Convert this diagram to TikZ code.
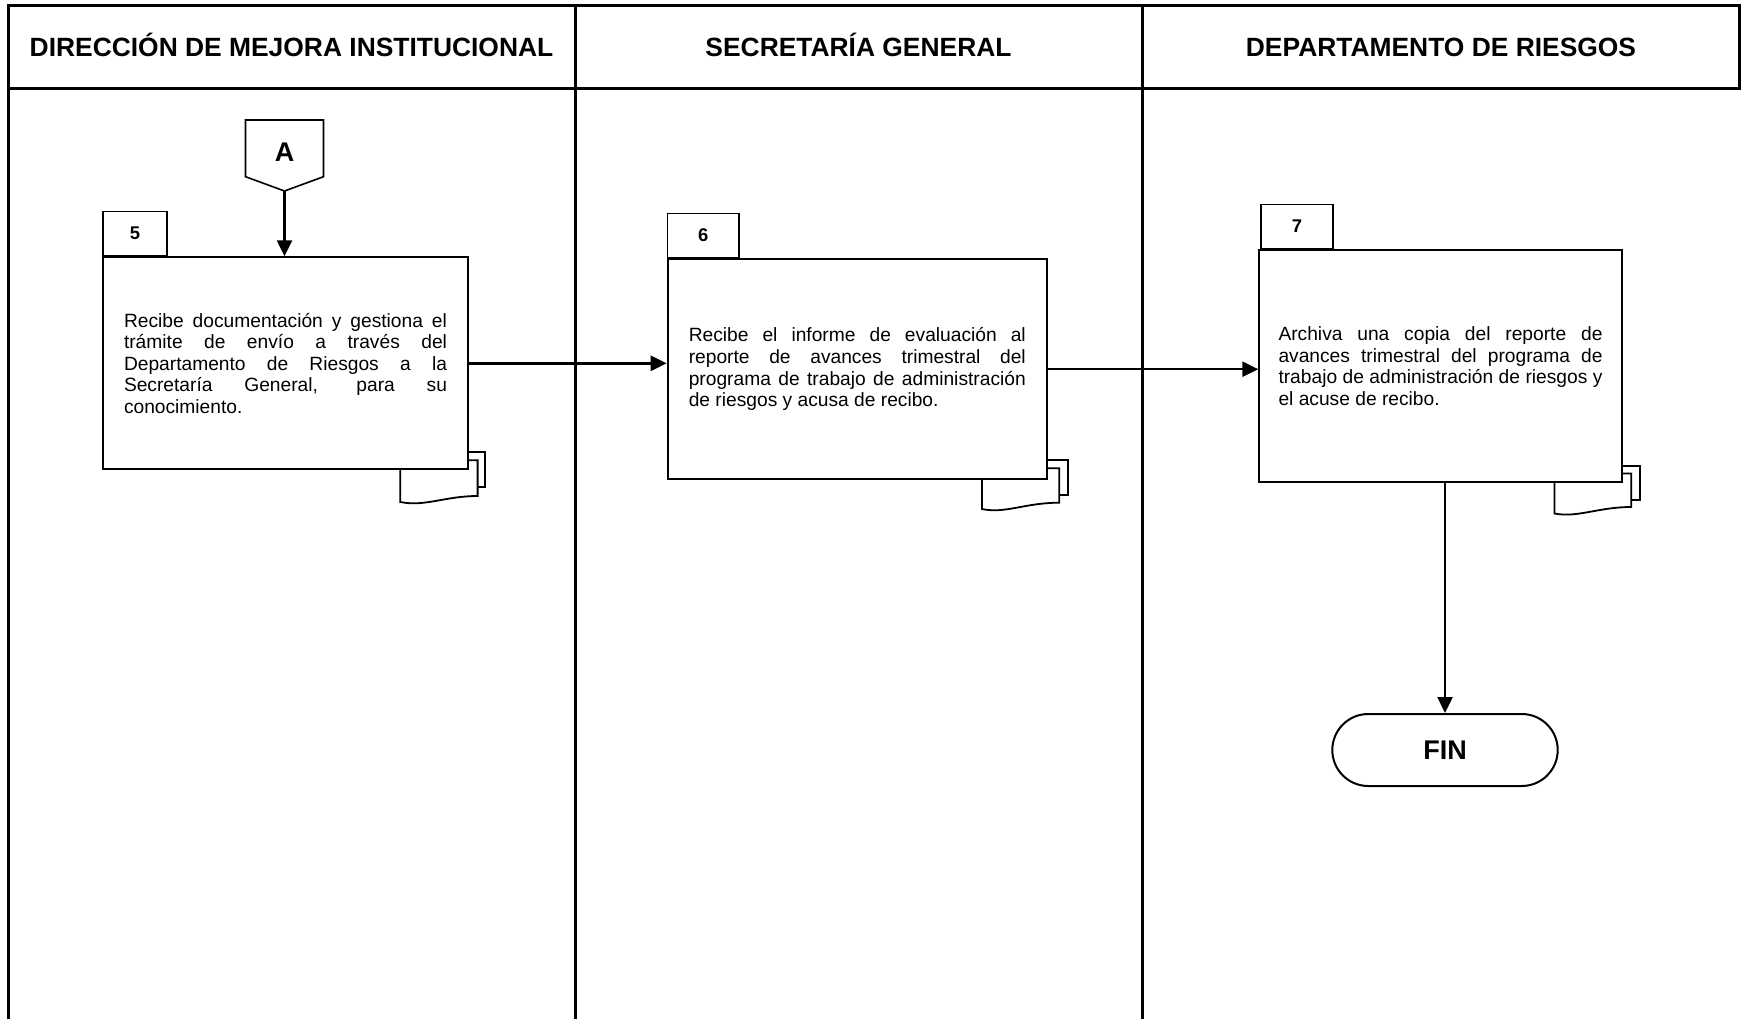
\documentclass[tikz,border=0pt]{standalone}
\usepackage{fontspec}
\setmainfont{Liberation Sans}
\usetikzlibrary{positioning,arrows.meta}
\hyphenpenalty=10000
\hbadness=10000

\tikzset{
  lane/.style={line width=1.5pt},
  head/.style={anchor=base,font=\bfseries\fontsize{13.2}{16}\selectfont},
  task/.style={draw,line width=1pt,fill=white,align=justify,inner sep=0pt,font=\fontsize{9.6}{10.8}\selectfont},
  tab/.style={draw,line width=0.7pt,minimum height=22pt,inner sep=0pt,font=\bfseries\fontsize{9.2}{11}\selectfont},
  page/.style={draw,line width=0.9pt,fill=white},
  flow/.style={line width=1.2pt,-{Triangle[length=8pt,width=7.5pt]}},
  term/.style={draw,line width=1pt,rounded corners=18pt,minimum width=112.7pt,minimum height=36pt,font=\bfseries\fontsize{13.5}{16}\selectfont}
}

\begin{document}
\begin{tikzpicture}[x=0.5pt,y=-0.5pt]
\useasboundingbox (0,0) rectangle (1741,1019);

% lanes
\draw[lane] (8.5,1019) -- (8.5,5) -- (1739.5,5) -- (1739.5,88.5) -- (8.5,88.5);
\draw[lane] (575,5) -- (575,1019);
\draw[lane] (1142.5,5) -- (1142.5,1019);

\node[head] (h1) at (291.5,56) {DIRECCIÓN DE MEJORA INSTITUCIONAL};
\node[head] (h2) at (858.5,56) {SECRETARÍA GENERAL};
\node[head] (h3) at (1441,56) {DEPARTAMENTO DE RIESGOS};

% documents behind the boxes
\draw[page] (409,452.3) rectangle (485.3,486.7);
\draw[page] (400.3,460.3) -- (477.6,460.3) -- (477.6,496) .. controls (445,496) and (425,507) .. (400.3,502) -- cycle;
\draw[page] (990,460) rectangle (1067.7,495);
\draw[page] (982,468.3) -- (1059.2,468.3) -- (1059.2,502.7) .. controls (1025,502.7) and (1005,514) .. (982,509) -- cycle;
\draw[page] (1562,465.8) rectangle (1640,499.7);
\draw[page] (1554.4,473.4) -- (1631.3,473.4) -- (1631.3,507) .. controls (1598,507) and (1578,518) .. (1554.4,513.5) -- cycle;

% activities
\node[task,text width=161.5pt,minimum width=182.2pt,minimum height=106pt] (b5) at (285.5,363.3) {Recibe documentación y gestiona el\linebreak trámite de envío a través del\linebreak Departamento de Riesgos a la\linebreak Secretaría General, para su\linebreak conocimiento.};
\node[tab,minimum width=32pt,above right=0pt and 0pt of b5.north west] (t5) {5};

\node[task,text width=168.5pt,minimum width=189.6pt,minimum height=110.2pt] (b6) at (857.3,369.2) {Recibe el informe de evaluación al\linebreak reporte de avances trimestral del\linebreak programa de trabajo de administración\linebreak de riesgos y acusa de recibo.};
\node[tab,minimum width=35.8pt,above right=0pt and 0pt of b6.north west] (t6) {6};

\node[task,text width=162pt,minimum width=181.2pt,minimum height=115.9pt] (b7) at (1440.5,366.1) {Archiva una copia del reporte de\linebreak avances trimestral del programa de\linebreak trabajo de administración de riesgos y\linebreak el acuse de recibo.};
\node[tab,minimum width=36pt,above right=0pt and 1pt of b7.north west] (t7) {7};

% connector A
\draw[line width=0.8pt] (245.5,120) -- (323.5,120) -- (323.5,176.7) -- (284.5,191) -- (245.5,176.7) -- cycle;
\node[font=\bfseries\fontsize{13.5}{16}\selectfont] (A) at (284.5,152) {A};
\coordinate (Atip) at (284.5,191);

\node[term] (fin) at (1445,750) {FIN};

\draw[flow] (Atip) -- (Atip |- b5.north);
\draw[flow] (b5.east) -- (b5.east -| b6.west);
\draw[flow] (b6.east) -- (b6.east -| b7.west);
\draw[flow] (b7.south -| fin.north) -- (fin.north);
\end{tikzpicture}
\end{document}
